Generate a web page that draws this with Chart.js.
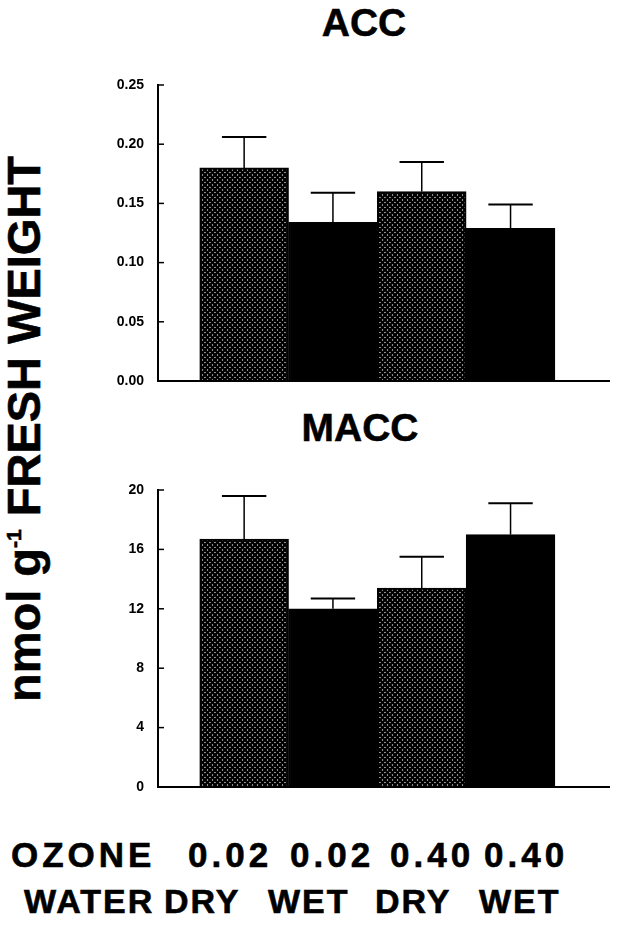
<!DOCTYPE html>
<html>
<head>
<meta charset="utf-8">
<script src="https://cdn.jsdelivr.net/npm/chart.js@4.4.1/dist/chart.umd.min.js"></script>
<style>
  body { margin: 0; background: #fff; }
  #page {
    position: relative; width: 621px; height: 927px; overflow: hidden;
    font-family: "Liberation Sans", Arial, sans-serif; font-weight: bold; color: #000;
  }
  canvas { position: absolute; left: 0; }
  .title { position: absolute; width: 200px; font-size: 39px; line-height: 1; text-align: center; -webkit-text-stroke: 0.5px #000; }
  .ylab {
    position: absolute; left: -276px; top: 406px; width: 600px; height: 46px;
    font-size: 47px; line-height: 46px; text-align: center; white-space: nowrap;
    transform: rotate(-90deg); -webkit-text-stroke: 0.6px #000;
  }
  .ylab .sup { font-size: 21px; position: relative; top: -19px; }
  .w { position: absolute; line-height: 1; white-space: nowrap; -webkit-text-stroke: 0.6px #000; }
  .ozone { font-size: 35px; letter-spacing: 4px; }
  .water { font-size: 34px; letter-spacing: 2px; }
</style>
</head>
<body>
<div id="page">
  <div class="title" style="left:264px; top:3px;">ACC</div>
  <div class="title" style="left:260px; top:408px;">MACC</div>
  <div class="ylab">nmol g<span class="sup">-1</span> FRESH WEIGHT</div>
  <canvas id="accChart" width="621" height="345" style="top:60px;"></canvas>
  <canvas id="maccChart" width="621" height="347" style="top:465px;"></canvas>
  <div id="xlabels"></div>
</div>
<script>
// treatments, left to right
const categories = ['0.02 DRY', '0.02 WET', '0.40 DRY', '0.40 WET'];
const ozoneLabels = ['0.02', '0.02', '0.40', '0.40'];
const waterLabels = ['DRY', 'WET', 'DRY', 'WET'];

// ACC, nmol g-1 fresh weight (mean and upper error)
const accMeans = [0.180, 0.134, 0.160, 0.129];
const accErrors = [0.026, 0.025, 0.025, 0.020];

// MACC, nmol g-1 fresh weight
const maccMeans = [16.7, 12.0, 13.4, 17.0];
const maccErrors = [2.9, 0.7, 2.1, 2.1];

const FONT = '"Liberation Sans", Arial, sans-serif';

// cross-hatch fill for the DRY bars
function makeHatch() {
    const p = document.createElement('canvas');
    p.width = 5;
    p.height = 5;
    const c = p.getContext('2d');
    c.fillStyle = '#fff';
    c.fillRect(0, 0, 5, 5);
    c.strokeStyle = '#000';
    c.lineWidth = 2.4;
    c.beginPath();
    c.moveTo(-1, -1); c.lineTo(6, 6);
    c.moveTo(-1, 6); c.lineTo(6, -1);
    c.stroke();
    return c.createPattern(p, 'repeat');
}
const hatch = makeHatch();

// x baseline, upward error bars and inward tick marks
const errorBars = {
    id: 'errorBars',
    afterDatasetsDraw(chart) {
        const ctx = chart.ctx;
        const area = chart.chartArea;
        const x = chart.scales.x;
        const y = chart.scales.y;
        const ds = chart.data.datasets[0];
        const meta = chart.getDatasetMeta(0);
        ctx.save();
        ctx.strokeStyle = '#000';

        const y0 = y.getPixelForValue(0);
        ctx.lineWidth = 2;
        ctx.beginPath();
        ctx.moveTo(area.left - 1, y0);
        ctx.lineTo(area.right, y0);
        ctx.stroke();

        meta.data.forEach((bar, i) => {
            const pt = ds.data[i];
            const cx = x.getPixelForValue(pt.x);
            const yBase = y.getPixelForValue(pt.y);
            const yTop = y.getPixelForValue(pt.y + ds.errors[i]);
            const half = bar.width / 4;
            ctx.lineWidth = 1.5;
            ctx.beginPath();
            ctx.moveTo(cx, yBase);
            ctx.lineTo(cx, yTop);
            ctx.stroke();
            ctx.lineWidth = 2;
            ctx.beginPath();
            ctx.moveTo(cx - half, yTop);
            ctx.lineTo(cx + half, yTop);
            ctx.stroke();
        });

        ctx.lineWidth = 1.5;
        y.ticks.forEach(t => {
            const py = y.getPixelForValue(t.value);
            ctx.beginPath();
            ctx.moveTo(y.right, py);
            ctx.lineTo(y.right + 6, py);
            ctx.stroke();
        });
        ctx.restore();
    }
};

function makePanel(id, means, errors, yMax, yStep, decimals, padTop, padBottom) {
    const ctx = document.getElementById(id).getContext('2d');
    return new Chart(ctx, {
        type: 'bar',
        data: {
            labels: categories,
            datasets: [{
                data: means.map((v, i) => ({ x: i + 1, y: v })),
                errors: errors,
                backgroundColor: means.map((v, i) => i % 2 === 0 ? hatch : '#000'),
                borderColor: '#000',
                borderWidth: 2,
                barPercentage: 1,
                categoryPercentage: 1
            }]
        },
        options: {
            responsive: false,
            animation: false,
            events: [],
            layout: { padding: { top: padTop, bottom: padBottom, left: 0, right: 11 } },
            plugins: {
                legend: { display: false },
                tooltip: { enabled: false }
            },
            scales: {
                x: {
                    type: 'linear',
                    display: false,
                    offset: false,
                    min: 0.03,
                    max: 5.12,
                    ticks: { stepSize: 1, includeBounds: false },
                    grid: { display: false, offset: false }
                },
                y: {
                    min: 0,
                    max: yMax,
                    ticks: {
                        stepSize: yStep,
                        color: '#000',
                        padding: 14,
                        font: { family: FONT, weight: 'bold', size: 14 },
                        callback: v => v.toFixed(decimals)
                    },
                    grid: { display: false, drawTicks: false },
                    border: { display: true, color: '#000', width: 2 },
                    afterFit: s => { s.width = 158; }
                }
            }
        },
        plugins: [errorBars]
    });
}

makePanel('accChart', accMeans, accErrors, 0.25, 0.05, 2, 25, 24);
makePanel('maccChart', maccMeans, maccErrors, 20, 4, 0, 25, 25);

// treatment labels under the lower panel
const ozoneX = [188, 290, 390, 484];
const waterX = [164, 268, 375, 479];
const holder = document.getElementById('xlabels');
function addWord(text, cls, left, top) {
    const d = document.createElement('div');
    d.className = 'w ' + cls;
    d.textContent = text;
    d.style.left = left + 'px';
    d.style.top = top + 'px';
    holder.appendChild(d);
}
addWord('OZONE', 'ozone', 11, 837);
addWord('WATER', 'water', 24, 884);
ozoneLabels.forEach((t, i) => addWord(t, 'ozone', ozoneX[i], 837));
waterLabels.forEach((t, i) => addWord(t, 'water', waterX[i], 884));
</script>
</body>
</html>
